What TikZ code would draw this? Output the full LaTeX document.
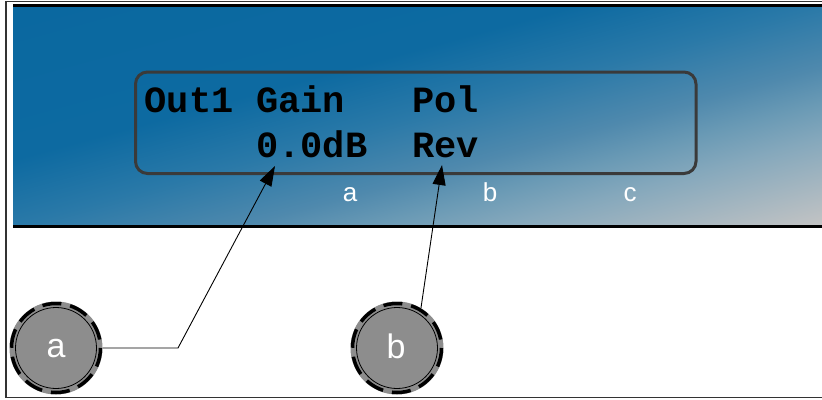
\documentclass[tikz,border=0pt]{standalone}
\usepackage{fontspec}
\setmainfont{Liberation Sans}
\newfontfamily\lcdfont{Liberation Mono}
\usetikzlibrary{arrows.meta}
\definecolor{pc0}{HTML}{0A68A0}
\definecolor{pc1}{HTML}{0D6AA1}
\definecolor{pc2}{HTML}{2A79A8}
\definecolor{pc3}{HTML}{4F89AD}
\definecolor{pc4}{HTML}{6A9AB5}
\definecolor{pc5}{HTML}{85A8BC}
\definecolor{pc6}{HTML}{C4C4C4}
\definecolor{knobgray}{HTML}{8D8D8D}
\definecolor{framegray}{HTML}{333333}
\definecolor{lcdedge}{HTML}{3A3A3A}
\pgfdeclarehorizontalshading{panelshade}{100bp}{color(0bp)=(pc0); color(35bp)=(pc1); color(50bp)=(pc2); color(64bp)=(pc3); color(72bp)=(pc4); color(80bp)=(pc5); color(100bp)=(pc6)}
\begin{document}
\begin{tikzpicture}[x=1pt,y=-1pt,
  lcd/.style={font=\lcdfont\bfseries\fontsize{37}{37}\selectfont, inner sep=0pt, anchor=base west, text=black},
  lbl/.style={font=\fontsize{26}{26}\selectfont, text=white, inner sep=0pt, anchor=base},
  knob/.style={circle, minimum size=92pt, inner sep=0pt, fill=knobgray, draw=knobgray, line width=1pt, font=\fontsize{34}{34}\selectfont, text=white},
  conn/.style={line width=0.9pt, draw=black, -{Triangle[length=20pt,width=13pt]}}]
\useasboundingbox (0,0) rectangle (822,399);
% panel with diagonal gradient
\begin{scope}
  \clip (13,5) rectangle (823,226);
  \pgftransformcm{8.1}{-2.21}{8.1}{2.21}{\pgfpoint{417.5pt}{-115.5pt}}
  \pgftext{\pgfuseshading{panelshade}}
\end{scope}
% outer frame
\draw[framegray, line width=1.5pt] (824,1.5) -- (6,1.5) -- (6,397.5) -- (824,397.5);
% panel edges
\draw[black, line width=3pt] (13,5) -- (824,5);
\draw[black, line width=3pt] (13,226) -- (824,226);
% LCD window
\draw[lcdedge, line width=3pt, rounded corners=12pt] (135.5,72) rectangle (696,173.5);
\node[lcd] (out) at (144.5,112) {Out1};
\node[lcd] (gain) at (256,112) {Gain};
\node[lcd] (pol) at (412,112) {Pol};
\node[lcd] (val) at (256,157) {0.0dB};
\node[lcd] (rev) at (412,157) {Rev};
% labels
\node[lbl] (la) at (350,201) {a};
\node[lbl] (lb) at (490,201) {b};
\node[lbl] (lc) at (630,201) {c};
% knobs
\node[knob] (ka) at (56,348) {};
\draw[black, line width=3.5pt, dash pattern=on 19pt off 9pt] (ka.center) circle[radius=44.5];
\draw[black, line width=0.8pt] (ka.center) circle[radius=40.5];
\node[lbl, font=\fontsize{34}{34}\selectfont] (kat) at (56,357) {a};
\node[knob] (kb) at (397,348) {};
\draw[black, line width=3.5pt, dash pattern=on 19pt off 9pt] (kb.center) circle[radius=44.5];
\draw[black, line width=0.8pt] (kb.center) circle[radius=40.5];
\node[lbl, font=\fontsize{34}{34}\selectfont] (kbt) at (396,358) {b};
% connectors
\coordinate (tipa) at (275,166);
\coordinate (tipb) at (442,165);
\coordinate (benda) at (178,348);
\draw[conn] (ka.east) -- (benda) -- (tipa);
\draw[conn] (kb.59) -- (tipb);
\end{tikzpicture}
\end{document}
